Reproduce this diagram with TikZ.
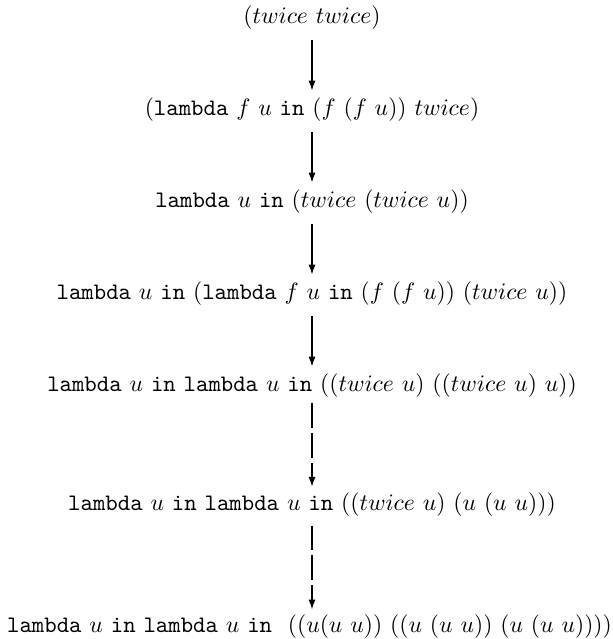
\documentclass[tikz,border=0pt]{standalone}
\usetikzlibrary{arrows.meta}
\newcommand{\kw}[1]{\texttt{#1}}
\begin{document}
\begin{tikzpicture}[x=0.423pt,y=-0.423pt,
  term/.style={inner sep=0pt,text height=7.5pt,text depth=2.5pt},
  redarrow/.style={-{Latex[length=4.2pt,width=3pt]},line width=0.6pt,shorten <=4.2pt,shorten >=3pt},
  dashedarrow/.style={redarrow,dash pattern=on 10.5pt off 2.1pt}]
\useasboundingbox (0,0) rectangle (613,639);
\node[term] (n1) at (312,18) {$(twice~twice)$};
\node[term] (n2) at (312,110) {$($\kw{lambda} $f$ $u$ \kw{in} $(f~(f~u))$ $twice)$};
\node[term] (n3) at (312,202) {\kw{lambda} $u$ \kw{in} $(twice~(twice~u))$};
\node[term] (n4) at (312,294) {\kw{lambda} $u$ \kw{in} $($\kw{lambda} $f$ $u$ \kw{in} $(f~(f~u))$ $(twice~u))$};
\node[term] (n5) at (312,386) {\kw{lambda} $u$ \kw{in} \kw{lambda} $u$ \kw{in} $((twice~u)~((twice~u)~u))$};
\node[term] (n6) at (312,505) {\kw{lambda} $u$ \kw{in} \kw{lambda} $u$ \kw{in} $((twice~u)~(u~(u~u)))$};
\node[term] (n7) at (309.5,627) {\kw{lambda} $u$ \kw{in} \kw{lambda} $u$ \kw{in}~ $((u(u~u))~((u~(u~u))~(u~(u~u))))$};
\draw[redarrow] (n1) -- (n2);
\draw[redarrow] (n2) -- (n3);
\draw[redarrow] (n3) -- (n4);
\draw[redarrow] (n4) -- (n5);
\draw[dashedarrow,shorten <=2pt,shorten >=2.5pt] (n5) -- (n6);
\draw[dashedarrow,shorten <=3.5pt,shorten >=2.2pt] (n6) -- (n7.north -| n6);
\end{tikzpicture}
\end{document}
